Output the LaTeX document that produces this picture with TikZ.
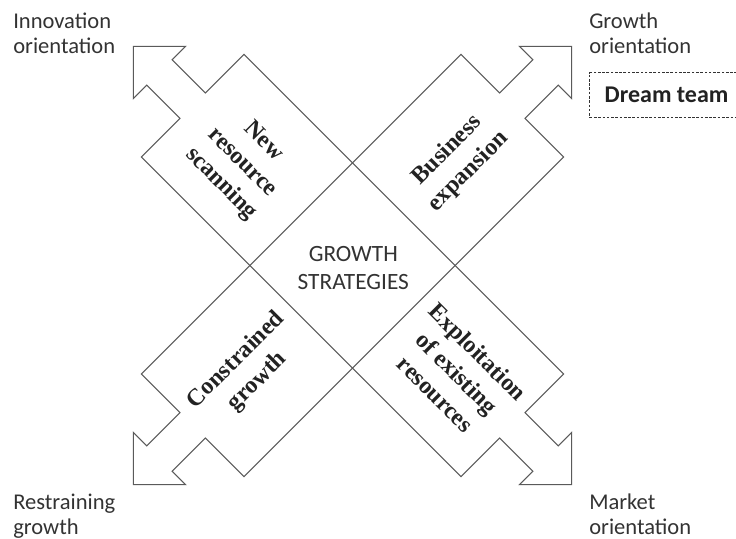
\documentclass[tikz,border=0pt]{standalone}
\usepackage{fontspec}
\setmainfont{Liberation Serif}
\newfontfamily\carl{Carlito}
\definecolor{linegray}{HTML}{5A5A5A}
\definecolor{textgray}{HTML}{333333}
\definecolor{boldgray}{HTML}{222222}
\begin{document}
\begin{tikzpicture}[x=0.75pt,y=-0.75pt,
  band/.style={draw=linegray, line width=0.8pt, line join=miter},
  quad/.style={font=\fontsize{18}{22.5}\selectfont\bfseries, align=center, text=boldgray, inner sep=0pt},
  corner/.style={font=\carl\fontsize{16.9}{18.75}\selectfont, align=left, text=textgray, anchor=base west, inner sep=0pt},
]
\clip (0,0) rectangle (736,539);
\fill[white] (0,0) rectangle (736,539);

% NW--SE band
\begin{scope}[shift={(352.5,265.5)}, rotate=-45]
\draw[band] (310,0) -- (273,37) -- (273,18) -- (226,18) -- (226,72.5) -- (-226,72.5) -- (-226,18) -- (-273,18) -- (-273,37) -- (-310,0) -- (-273,-37) -- (-273,-18) -- (-226,-18) -- (-226,-72.5) -- (226,-72.5) -- (226,-18) -- (273,-18) -- (273,-37) -- cycle;
\end{scope}
% SW--NE band
\begin{scope}[shift={(352.5,265.5)}, rotate=45]
\draw[band] (310,0) -- (273,37) -- (273,18) -- (226,18) -- (226,72.5) -- (-226,72.5) -- (-226,18) -- (-273,18) -- (-273,37) -- (-310,0) -- (-273,-37) -- (-273,-18) -- (-226,-18) -- (-226,-72.5) -- (226,-72.5) -- (226,-18) -- (273,-18) -- (273,-37) -- cycle;
\end{scope}

\node[quad, rotate=-45] (nw) at (242,163) {New\\resource\\scanning};
\node[quad, rotate=45] (ne) at (458,161) {Business\\expansion};
\node[quad, rotate=45] (sw) at (247,371) {Constrained\\growth};
\node[quad, rotate=-45] (se) at (457,373) {Exploitation\\of existing\\resources};

\node[font=\carl\fontsize{17.5}{21.2}\selectfont, align=center, text=textgray, anchor=base, inner sep=0pt] (center) at (353.3,289.3) {GROWTH\\STRATEGIES};

\node[corner] (innov) at (13,53.3) {Innovation\\orientation};
\node[corner] (growth) at (589,53.3) {Growth\\orientation};
\node[corner] (restr) at (13,534.5) {Restraining\\growth};
\node[corner] (market) at (589,534.5) {Market\\orientation};

\node[draw=textgray, line width=0.6pt, dash pattern=on 2pt off 1.2pt, font=\carl\bfseries\fontsize{18}{22}\selectfont, text=boldgray, anchor=west, minimum height=33.5pt, inner xsep=11.25pt, inner ysep=0pt] (dream) at (589.3,95) {Dream team};
\end{tikzpicture}
\end{document}
